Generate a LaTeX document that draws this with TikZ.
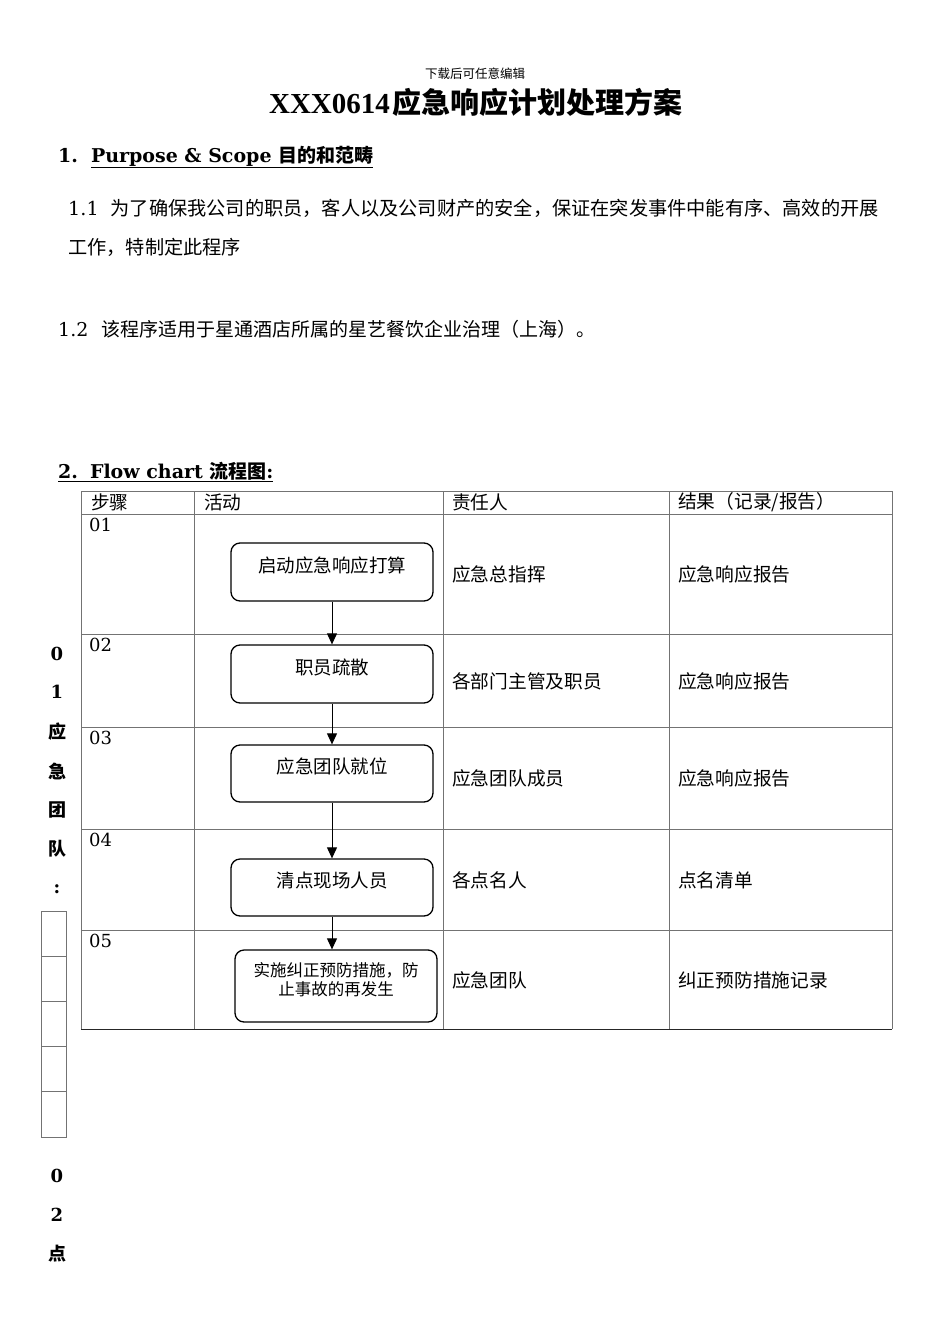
\documentclass[tikz,border=0pt]{standalone}
\usepackage{fontspec}
\setmainfont{DejaVu Serif}
\newfontfamily\cjk{Noto Sans CJK SC}
\newfontfamily\titlefont{Liberation Serif}
\usetikzlibrary{arrows.meta,positioning}

\tikzset{
  grid/.style={draw=black!55, line width=0.9pt},
  body/.style={anchor=west, inner sep=0pt, font=\fontsize{19}{23}\selectfont},
  cell/.style={anchor=west, inner sep=0pt, font=\fontsize{18.7}{22}\selectfont\cjk},
  stepno/.style={anchor=north west, inner sep=0pt, font=\fontsize{18}{22}\selectfont},
  sidechar/.style={inner sep=0pt, font=\fontsize{18}{22}\selectfont\bfseries},
  actbox/.style={draw=black, line width=1.3pt, rounded corners=9pt, minimum width=202pt, inner sep=0pt},
  acttext/.style={inner sep=0pt, align=center, font=\fontsize{18.5}{22}\selectfont\cjk},
  flow/.style={draw=black, line width=1pt, -{Triangle[length=11pt,width=10pt]}}
}

\begin{document}
\begin{tikzpicture}[x=1pt, y=-1pt]
\useasboundingbox[fill=white] (0,0) rectangle (950,1344);

% heading
\node[inner sep=0pt, font=\fontsize{12.5}{14}\selectfont\cjk] (note) at (475,74) {下载后可任意编辑};
\node[inner sep=0pt, font=\fontsize{29}{34}\selectfont\bfseries] (title) at (476,102)
  {{\titlefont XXX0614}\hspace{3pt}{\cjk 应急响应计划处理方案}};

% section 1
\node[body, font=\fontsize{19}{23}\selectfont\bfseries] (sec1) at (58,157)
  {1.\hspace{13pt}\underline{Purpose \& Scope {\cjk 目的和范畴}}};
\node[body, font=\fontsize{19.2}{23}\selectfont] (p11) at (68,208)
  {1.1\hspace{12pt}{\cjk 为了确保我公司的职员，客人以及公司财产的安全，保证在突发事件中能有序、高效的开展}};
\node[body, font=\fontsize{19.2}{23}\selectfont\cjk] (p11b) at (68,247) {工作，特制定此程序};
\node[body] (p12) at (58,329)
  {1.2\hspace{13pt}{\cjk 该程序适用于星通酒店所属的星艺餐饮企业治理（上海）。}};

% section 2
\node[body, font=\fontsize{19}{23}\selectfont\bfseries] (sec2) at (58,472)
  {\underline{2.\hspace{12pt}Flow chart {\cjk 流程图}:}};

% table
\foreach \y in {491,514,634,727,829,930} \draw[grid] (81,\y) -- (892,\y);
\foreach \x in {81,194,443,669,892} \draw[grid] (\x,491) -- (\x,1029);
\draw[black!85, line width=1pt] (81,1029) -- (892,1029);

\node[cell] (hstep) at (91,502) {步骤};
\node[cell] (hact) at (204,502) {活动};
\node[cell] (howner) at (452,502) {责任人};
\node[cell] (hres) at (678,502) {结果（记录/报告）};

\foreach \n/\yt/\yc/\own/\res in {1/514/574/应急总指挥/应急响应报告,
    2/634/681/各部门主管及职员/应急响应报告,
    3/727/778/应急团队成员/应急响应报告,
    4/829/880/各点名人/点名清单,
    5/930/980/应急团队/纠正预防措施记录} {
  \node[stepno] (s\n) at (89,\yt+4) {0\n};
  \node[cell] (o\n) at (452,\yc) {\own};
  \node[cell] (r\n) at (678,\yc) {\res};
}

% activity boxes
\foreach \n/\yc/\h/\txt in {1/572/58/启动应急响应打算, 2/674/58/职员疏散,
    3/773.5/57/应急团队就位, 4/887.5/57/清点现场人员} {
  \node[actbox, minimum height=\h pt] (a\n) at (332,\yc) {};
  \node[acttext] (t\n) at ([yshift=7pt]a\n.center) {\txt};
}
\node[actbox, minimum height=72pt] (a5) at (336,986) {};
\node[acttext, font=\fontsize{16.5}{19}\selectfont\cjk] (t5) at ([yshift=6.5pt]a5.center)
  {实施纠正预防措施，防\\止事故的再发生};

\foreach \i/\j in {1/2,2/3,3/4} \draw[flow] (a\i) -- (a\j);
\draw[flow] (a4.south) -- (a4.south |- a5.north);

% left margin column
\foreach \c/\y [count=\k] in {0/654,1/692,{\cjk 应}/732,{\cjk 急}/771,{\cjk 团}/810,{\cjk 队}/849,:/889,0/1176,2/1215,{\cjk 点}/1254}
  \node[sidechar] (side\k) at (57,\y) {\c};
\foreach \k in {0,...,4} \draw[grid] (41,911+\k*45.2) rectangle (66,956.2+\k*45.2);
\end{tikzpicture}
\end{document}
